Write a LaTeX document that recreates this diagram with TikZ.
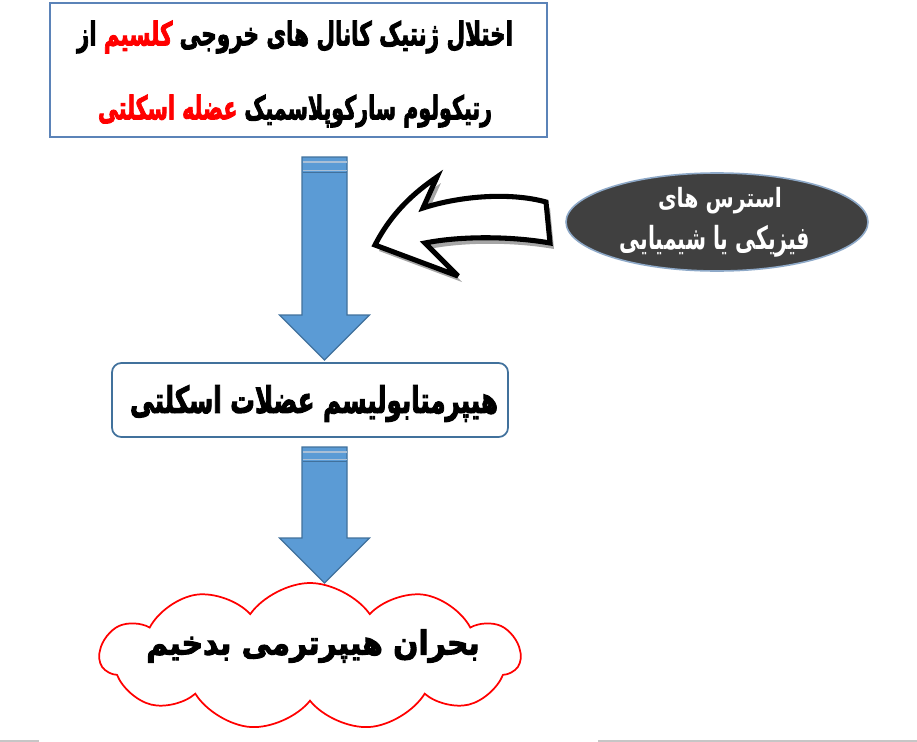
\documentclass[tikz,border=0pt]{standalone}
\usepackage{fontspec}
\usepackage{graphicx}
\usetikzlibrary{shapes.geometric,shapes.symbols,shadows,calc}
\TeXXeTstate=1
\newfontfamily\arabicfont[Script=Arabic, BoldFeatures={FakeBold=3}]{DejaVu Sans}
\newfontfamily\arabiclight[Script=Arabic]{DejaVu Sans}
\newcommand{\fa}[1]{{\arabicfont\bfseries\beginR #1\endR}}
\newcommand{\fb}[1]{{\arabiclight\bfseries\beginR #1\endR}}
\definecolor{boxblue}{HTML}{5B83B8}
\definecolor{arrfill}{HTML}{5B9BD5}
\definecolor{arrline}{HTML}{41719C}
\definecolor{ellfill}{HTML}{404040}
\definecolor{ellline}{HTML}{8EA9C8}
\definecolor{stripe}{HTML}{A9BFD6}
\tikzset{
  topbox/.style={draw=boxblue, line width=1.3pt, fill=white, inner sep=0pt},
  midbox/.style={draw=arrline, line width=1.3pt, rounded corners=7pt, fill=white, inner sep=0pt},
  stressell/.style={ellipse, draw=ellline, line width=1.2pt, fill=ellfill, inner sep=0pt},
  redcloud/.style={cloud, cloud puffs=11, cloud puff arc=110, draw=red, line width=1.3pt, fill=white, inner sep=0pt},
  txt/.style={inner sep=0pt, text=black},
  bluearrow/.style={fill=arrfill, draw=arrline, line width=0.9pt, line join=miter},
  curvedarrow/.style={fill=white, draw=black, line width=3.8pt, line join=miter, miter limit=4,
    drop shadow={shadow xshift=3pt, shadow yshift=-4.5pt, opacity=0.35, fill=black}},
}
\begin{document}
\begin{tikzpicture}[x=0.75pt,y=-0.75pt]
\useasboundingbox (0,0) rectangle (917,742);
% top box
\node[topbox, minimum width=372.75pt, minimum height=100.5pt] (top) at (298.5,70) {};
\node[txt] (t1) at (295,37) {\resizebox*{327pt}{24.5pt}{\fa{از} \textcolor{red}{\fa{کلسیم}} \fa{اختلال ژنتیک کانال های خروجی}}};
\node[txt] (t2) at (295,111) {\resizebox*{295.5pt}{24.5pt}{\textcolor{red}{\fa{عضله اسکلتی}} \fa{رتیکولوم سارکوپلاسمیک}}};
% middle box
\node[midbox, minimum width=297pt, minimum height=55.5pt] (mid) at (310,400) {};
\node[txt] (mt) at (314,403.5) {\resizebox*{276pt}{27.5pt}{\fa{هیپرمتابولیسم عضلات اسکلتی}}};
% stress ellipse
\node[stressell, minimum width=226.5pt, minimum height=73.5pt] (stress) at (717,222) {};
\node[txt, text=white] (s1) at (720,200.5) {\resizebox*{93pt}{20pt}{\fb{استرس های}}};
\node[txt, text=white] (s2) at (715,241) {\resizebox*{142.5pt}{24pt}{\fb{فیزیکی یا شیمیایی}}};
% cloud
\node[redcloud, minimum width=315pt, minimum height=110.25pt] (cl) at (310,656.5) {};
\node[txt] (ct) at (313,646) {\resizebox*{250pt}{25pt}{\fa{بحران هیپرترمی بدخیم}}};
% blue arrow 1
\coordinate (a1top) at (324.5,157);
\coordinate (a1tip) at (324.5,360);
\path[bluearrow] (a1top) ++(-22.5,0) -- ++(45,0) -- ++(0,158) -- ++(22.5,0) -- (a1tip) -- ($(a1top)+(-45,158)$) -- ++(22.5,0) -- cycle;
\draw[stripe, line width=1pt] ($(a1top)+(-22,5)$) -- ++(44,0);
\draw[stripe, line width=1pt] ($(a1top)+(-22,13.5)$) -- ++(44,0);
\draw[arrline, line width=0.9pt] ($(a1top)+(-22,15.5)$) -- ++(44,0);
% blue arrow 2
\coordinate (a2top) at (324.5,447);
\coordinate (a2tip) at (324.5,583);
\path[bluearrow] (a2top) ++(-22.5,0) -- ++(45,0) -- ++(0,91) -- ++(22.5,0) -- (a2tip) -- ($(a2top)+(-45,91)$) -- ++(22.5,0) -- cycle;
\draw[stripe, line width=1pt] ($(a2top)+(-22,5)$) -- ++(44,0);
\draw[stripe, line width=1pt] ($(a2top)+(-22,12.5)$) -- ++(44,0);
\draw[arrline, line width=0.9pt] ($(a2top)+(-22,14.5)$) -- ++(44,0);
% curved arrow from stress to arrow 1
\coordinate (ctip) at (375,245);
\path[curvedarrow] (ctip) .. controls (392,212) and (415,192) .. (437,177)
  -- (423,208) .. controls (460,196) and (510,192) .. (546,202)
  -- (550,243) .. controls (510,236) and (460,236) .. (425,243)
  -- (458,276) -- cycle;
% bottom rules
\draw[gray!45, line width=0.8pt] (0,741) -- (39,741);
\draw[gray!45, line width=0.8pt] (598,741) -- (917,741);
\end{tikzpicture}
\end{document}
